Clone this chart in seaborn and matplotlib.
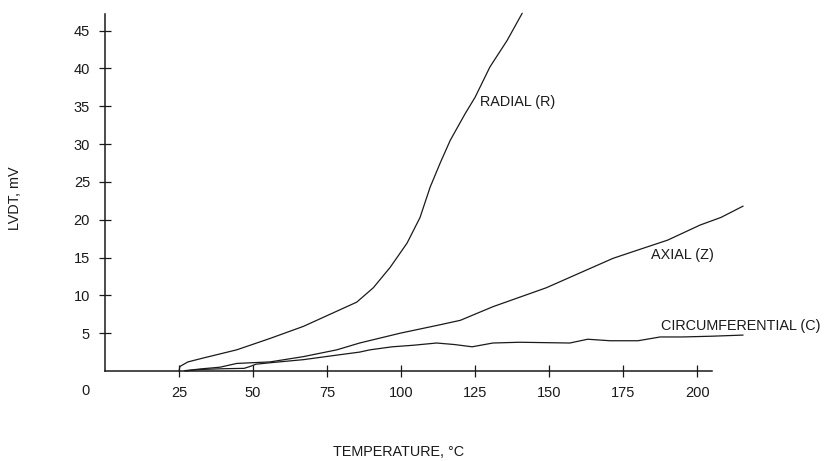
import matplotlib
matplotlib.use("Agg")
import matplotlib.pyplot as plt
import seaborn as sns
import pandas as pd

# ---- data ----
radial_T = [25, 25.3, 28, 33, 44.5, 55.7, 67, 76, 85, 90.6, 96.3, 102, 106.4,
            109.8, 113.2, 116.6, 121.6, 125, 130, 135.8, 140.9]
radial_V = [0, 0.6, 1.2, 1.7, 2.8, 4.3, 5.9, 7.5, 9.1, 11.0, 13.7, 16.9, 20.3,
            24.3, 27.5, 30.5, 34.0, 36.2, 40.2, 43.7, 47.3]

axial_T = [27, 33, 38.8, 44.5, 50, 55.7, 67, 78.3, 86, 99.7, 113, 120, 131,
           149, 160, 171.6, 180, 190, 201, 208, 215.5]
axial_V = [0.05, 0.3, 0.5, 1.0, 1.1, 1.2, 1.9, 2.8, 3.7, 5.0, 6.1, 6.7, 8.5,
           11.0, 12.9, 14.9, 16.0, 17.3, 19.3, 20.3, 21.8]

circ_T = [27, 32, 40, 47, 49, 51, 56, 67, 78.3, 86, 89.5, 97, 104, 112, 118,
          124, 131, 140, 157, 163, 170.6, 180, 187.5, 195, 205, 215.5]
circ_V = [0, 0.2, 0.3, 0.35, 0.6, 0.9, 1.1, 1.5, 2.1, 2.5, 2.8, 3.2, 3.4, 3.7,
          3.5, 3.2, 3.7, 3.8, 3.7, 4.2, 4.0, 4.0, 4.5, 4.5, 4.6, 4.75]

x_ticks = [25, 50, 75, 100, 125, 150, 175, 200]
y_ticks = [5, 10, 15, 20, 25, 30, 35, 40, 45]

labels = {"RADIAL (R)": (126.6, 35.5),
          "AXIAL (Z)": (184.5, 15.3),
          "CIRCUMFERENTIAL (C)": (187.8, 5.9)}

df = pd.concat([
    pd.DataFrame({"T": radial_T, "V": radial_V, "s": "R"}),
    pd.DataFrame({"T": axial_T, "V": axial_V, "s": "Z"}),
    pd.DataFrame({"T": circ_T, "V": circ_V, "s": "C"}),
], ignore_index=True)

sns.set_style("ticks")
plt.rcParams["font.family"] = ["Liberation Sans", "DejaVu Sans"]

W, H = 825, 461
fig = plt.figure(figsize=(W / 100, H / 100), dpi=100)
ax = fig.add_axes([105 / W, 1 - 371 / H, (712 - 105) / W, (371 - 14) / H])

for s in ["R", "Z", "C"]:
    sub = df[df["s"] == s]
    sns.lineplot(data=sub, x="T", y="V", ax=ax, color="#1a1a1a", lw=0.9,
                 sort=False, estimator=None, clip_on=False, legend=False)

ax.set_xlim(0, 205)
ax.set_ylim(0, 47.2)
ax.set_xticks(x_ticks)
ax.set_xticklabels([str(t) for t in x_ticks])
ax.set_yticks(y_ticks)
ax.set_yticklabels([str(t) for t in y_ticks])
ax.tick_params(direction="inout", length=8.5, width=0.9, colors="#1a1a1a",
               labelsize=10.5, pad=6.5)
for side in ["top", "right"]:
    ax.spines[side].set_visible(False)
for side in ["left", "bottom"]:
    ax.spines[side].set_linewidth(1.1)
    ax.spines[side].set_color("#1a1a1a")
ax.set_xlabel("")
ax.set_ylabel("")

for txt, (tx, ty) in labels.items():
    ax.text(tx, ty, txt, fontsize=10.4, ha="left", va="center", color="#1a1a1a")

fig.text(85 / W, 1 - 391 / H, "0", fontsize=10.5, ha="center", va="center",
         color="#1a1a1a")
fig.text(15 / W, 1 - 198 / H, "LVDT, mV", rotation=90, fontsize=10.4,
         ha="center", va="center", color="#1a1a1a")
fig.text(399 / W, 1 - 452 / H, "TEMPERATURE, \u00b0C", fontsize=10.4,
         ha="center", va="center", color="#1a1a1a")

fig.savefig("out.png", dpi=100)
